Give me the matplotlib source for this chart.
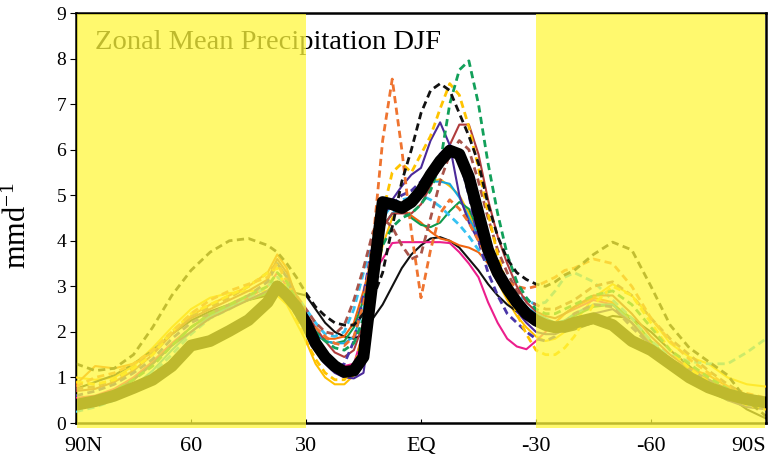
import matplotlib
matplotlib.use("Agg")
import matplotlib.pyplot as plt
from matplotlib.patches import Rectangle
from matplotlib.transforms import ScaledTranslation

plt.rcParams['font.family'] = ['Liberation Serif', 'DejaVu Serif']
plt.rcParams['mathtext.fontset'] = 'custom'
plt.rcParams['mathtext.rm'] = 'Liberation Serif'
plt.rcParams['mathtext.default'] = 'regular'

# latitude grid (N positive), 5 deg at high latitudes, 2.5 deg in the tropics
lat = [90, 85, 80, 75, 70, 65, 60, 55, 50, 45, 40,
       37.5, 35, 32.5, 30, 27.5, 25, 22.5, 20, 17.5, 15, 12.5, 10, 7.5, 5, 2.5, 0,
       -2.5, -5, -7.5, -10, -12.5, -15, -17.5, -20, -22.5, -25, -27.5, -30, -32.5, -35, -37.5,
       -40, -45, -50, -55, -60, -65, -70, -75, -80, -85, -90]

xticks = [90, 60, 30, 0, -30, -60, -90]
xlabels = ['90N', '60', '30', 'EQ', '-30', '-60', '90S']

# observations (thick black)
obs = [0.40, 0.48, 0.60, 0.77, 0.95, 1.25, 1.70, 1.80, 2.02, 2.26, 2.65,
       3.0, 2.8, 2.55, 2.2, 1.75, 1.45, 1.25, 1.12, 1.15, 1.45, 3.2, 4.85, 4.8, 4.72, 4.85, 5.1,
       5.45, 5.75, 5.98, 5.9, 5.4, 4.6, 3.8, 3.3, 2.95, 2.65, 2.4, 2.25, 2.15, 2.1, 2.12,
       2.2, 2.3, 2.15, 1.8, 1.6, 1.3, 1.0, 0.78, 0.63, 0.52, 0.45]

# models
black_dash = [1.3, 1.15, 1.2, 1.5, 2.1, 2.8, 3.35, 3.75, 4.0, 4.05, 3.9,
              3.75, 3.5, 3.2, 2.85, 2.55, 2.35, 2.2, 2.15, 2.15, 2.4, 2.75, 3.3, 4.3, 5.3, 6.0, 6.8,
              7.3, 7.45, 7.3, 6.8, 6.3, 5.7, 4.8, 4.1, 3.6, 3.3, 3.15, 3.05, 3.0, 3.1, 3.25,
              3.35, 3.7, 3.97, 3.8, 3.0, 2.15, 1.65, 1.35, 1.05, 0.5, 0.15]
green_dash = [0.35, 0.5, 0.7, 0.95, 1.25, 1.7, 2.1, 2.4, 2.6, 2.8, 3.0,
              3.3, 3.1, 2.7, 2.3, 2.0, 1.8, 1.65, 1.6, 1.75, 2.3, 3.2, 3.9, 4.3, 4.5, 4.6, 4.8,
              5.1, 5.7, 7.0, 7.75, 7.95, 7.0, 5.7, 4.6, 3.7, 3.1, 2.75, 2.5, 2.4, 2.4, 2.5,
              2.6, 2.8, 2.9, 2.6, 2.1, 1.6, 1.3, 1.0, 0.75, 0.6, 0.5]
orange_dash = [0.8, 1.0, 1.1, 1.3, 1.6, 2.0, 2.4, 2.7, 2.9, 3.05, 3.2,
               3.5, 3.1, 2.7, 2.3, 2.1, 1.9, 1.75, 1.7, 1.9, 2.6, 4.0, 6.2, 7.55, 6.0, 4.2, 2.75,
               3.8, 4.6, 4.9, 4.7, 4.4, 4.0, 3.6, 3.3, 3.1, 3.0, 2.95, 3.0, 3.1, 3.2, 3.35,
               3.4, 3.6, 3.5, 3.0, 2.3, 1.8, 1.4, 1.1, 0.8, 0.65, 0.55]
gold_dash = [0.9, 0.85, 0.95, 1.2, 1.5, 2.0, 2.4, 2.6, 2.8, 3.0, 3.3,
             3.4, 2.9, 2.3, 1.8, 1.4, 1.1, 0.95, 0.95, 1.2, 2.0, 3.3, 4.6, 5.5, 5.7, 5.5, 5.9,
             6.3, 6.9, 7.45, 7.2, 6.5, 5.6, 4.6, 3.7, 3.0, 2.4, 1.95, 1.6, 1.5, 1.5, 1.65,
             1.9, 2.6, 3.0, 2.8, 2.2, 1.6, 1.2, 0.9, 0.6, 0.4, 0.3]
purple = [0.5, 0.55, 0.7, 0.95, 1.3, 1.7, 2.0, 2.3, 2.5, 2.7, 2.9,
          3.1, 2.8, 2.4, 2.0, 1.6, 1.3, 1.1, 1.0, 0.98, 1.1, 2.6, 4.5, 4.9, 5.2, 5.45, 5.6,
          6.2, 6.6, 6.1, 5.0, 4.4, 4.0, 3.6, 3.2, 2.8, 2.45, 2.2, 2.0, 1.95, 1.95, 2.05,
          2.15, 2.4, 2.5, 2.2, 1.7, 1.3, 1.0, 0.75, 0.5, 0.35, 0.3]
purple_dash = [0.6, 0.7, 0.85, 1.1, 1.4, 1.85, 2.2, 2.4, 2.6, 2.8, 3.1,
               3.5, 3.2, 2.6, 2.1, 1.6, 1.3, 1.2, 1.3, 1.8, 2.8, 4.0, 4.6, 4.8, 5.0, 5.1, 5.3,
               5.6, 5.9, 6.1, 5.8, 5.0, 4.0, 3.3, 2.8, 2.4, 2.2, 2.0, 1.85, 1.8, 1.9, 2.2,
               2.4, 2.6, 2.55, 2.1, 1.7, 1.4, 1.15, 0.95, 0.7, 0.5, 0.4]
brown = [0.7, 0.75, 0.9, 1.15, 1.5, 1.95, 2.3, 2.5, 2.7, 2.9, 3.15,
         3.6, 3.3, 2.8, 2.4, 2.1, 1.8, 1.55, 1.45, 1.6, 2.2, 3.3, 4.3, 4.6, 4.6, 4.6, 4.8,
         5.2, 5.6, 6.1, 6.55, 6.55, 5.9, 4.9, 4.1, 3.5, 3.0, 2.65, 2.45, 2.35, 2.3, 2.4,
         2.55, 2.8, 2.8, 2.4, 1.9, 1.5, 1.2, 0.95, 0.75, 0.6, 0.5]
brown_dash = [0.75, 0.8, 0.95, 1.2, 1.55, 2.0, 2.35, 2.55, 2.75, 3.0, 3.3,
              3.5, 3.2, 2.8, 2.5, 2.2, 2.0, 1.95, 2.15, 2.7, 3.4, 4.2, 4.5, 4.3, 3.9, 3.6, 3.7,
              4.5, 5.3, 5.9, 6.2, 6.0, 5.3, 4.5, 3.8, 3.3, 2.9, 2.7, 2.6, 2.5, 2.5, 2.6,
              2.7, 3.0, 3.1, 2.8, 2.3, 1.85, 1.5, 1.15, 0.85, 0.6, 0.45]
cyan = [0.3, 0.4, 0.55, 0.8, 1.15, 1.6, 2.0, 2.35, 2.55, 2.7, 2.9,
        3.1, 3.0, 2.7, 2.4, 2.0, 1.8, 1.75, 1.75, 1.9, 2.5, 3.5, 4.3, 4.6, 4.8, 5.0, 5.25,
        5.3, 5.3, 5.25, 4.95, 4.5, 4.1, 3.7, 3.35, 3.0, 2.75, 2.55, 2.4, 2.3, 2.2, 2.25,
        2.4, 2.6, 2.6, 2.2, 1.7, 1.3, 1.0, 0.75, 0.55, 0.4, 0.35]
cyan_dash = [0.25, 0.35, 0.5, 0.75, 1.1, 1.5, 1.95, 2.3, 2.5, 2.75, 3.0,
             3.2, 3.05, 2.8, 2.5, 2.2, 1.95, 1.9, 2.0, 2.5, 3.3, 4.0, 4.5, 4.8, 4.9, 4.95, 5.0,
             4.9, 4.75, 4.55, 4.35, 4.1, 3.8, 3.5, 3.2, 2.95, 2.8, 2.7, 2.6, 2.65, 2.9, 3.2,
             3.3, 3.1, 2.7, 2.3, 1.8, 1.5, 1.35, 1.3, 1.3, 1.55, 1.85]
green = [0.45, 0.55, 0.7, 0.95, 1.3, 1.7, 2.1, 2.4, 2.55, 2.7, 2.85,
         3.0, 2.9, 2.6, 2.3, 1.95, 1.8, 1.75, 1.8, 2.1, 2.7, 3.6, 4.3, 4.6, 4.65, 4.5, 4.35,
         4.3, 4.4, 4.65, 4.85, 4.7, 4.2, 3.6, 3.15, 2.8, 2.55, 2.4, 2.3, 2.2, 2.15, 2.25,
         2.35, 2.55, 2.6, 2.3, 1.8, 1.4, 1.05, 0.7, 0.5, 0.45, 0.4]
orange = [0.85, 1.25, 1.2, 1.3, 1.55, 1.95, 2.35, 2.6, 2.8, 3.0, 3.3,
          3.7, 3.4, 2.7, 2.2, 1.95, 1.85, 1.85, 1.9, 2.2, 2.9, 3.7, 4.3, 4.6, 4.7, 4.55, 4.4,
          4.2, 4.05, 4.0, 3.9, 3.85, 3.75, 3.5, 3.1, 2.8, 2.55, 2.4, 2.3, 2.2, 2.2, 2.4,
          2.55, 2.75, 2.65, 2.2, 1.75, 1.4, 1.2, 1.05, 0.8, 0.55, 0.45]
magenta = [0.55, 0.6, 0.75, 1.0, 1.35, 1.75, 2.1, 2.35, 2.55, 2.75, 3.0,
           3.3, 3.0, 2.5, 2.1, 1.7, 1.45, 1.3, 1.25, 1.3, 2.0, 3.3, 3.6, 3.95, 3.97, 3.97, 3.97,
           3.97, 3.97, 3.95, 3.75, 3.5, 3.2, 2.65, 2.2, 1.85, 1.68, 1.62, 1.8, 2.0, 2.2, 2.4,
           2.5, 2.7, 2.6, 2.2, 1.7, 1.3, 1.0, 0.75, 0.55, 0.4, 0.35]
black_thin = [0.75, 0.9, 1.05, 1.3, 1.6, 1.95, 2.25, 2.45, 2.6, 2.7, 2.8,
              2.85, 2.85, 2.85, 2.8, 2.5, 2.2, 2.0, 1.9, 1.85, 1.95, 2.3, 2.6, 3.0, 3.4, 3.7, 3.9,
              4.05, 4.08, 4.0, 3.85, 3.6, 3.35, 3.05, 2.8, 2.6, 2.45, 2.33, 2.25, 2.15, 2.05, 2.0,
              2.05, 2.2, 2.35, 2.3, 2.0, 1.6, 1.25, 0.9, 0.6, 0.3, 0.1]
gold = [1.0, 0.95, 1.0, 1.25, 1.65, 2.1, 2.5, 2.75, 2.85, 2.9, 2.9,
        2.8, 2.6, 2.2, 1.8, 1.3, 1.0, 0.85, 0.85, 1.05, 1.7, 2.8, 3.9, 4.5, 4.8, 5.0, 5.2,
        5.3, 5.35, 5.2, 5.0, 4.6, 4.1, 3.6, 3.1, 2.7, 2.35, 2.1, 1.9, 1.8, 1.85, 2.0,
        2.2, 2.75, 3.05, 2.8, 2.3, 1.75, 1.45, 1.3, 1.0, 0.85, 0.8]

models = [
    (gold, '#ffc000', '-'),
    (black_thin, '#111111', '-'),
    (magenta, '#ec1e8c', '-'),
    (orange, '#f0640f', '-'),
    (green, '#109a4c', '-'),
    (cyan, '#12a8e0', '-'),
    (cyan_dash, '#36c2f2', '--'),
    (brown_dash, '#a8544a', '--'),
    (brown, '#b03c3c', '-'),
    (purple_dash, '#4a36a8', '--'),
    (purple, '#4b2a9a', '-'),
    (gold_dash, '#ffc400', '--'),
    (orange_dash, '#ef7430', '--'),
    (green_dash, '#12a05a', '--'),
    (black_dash, '#111111', '--'),
]

fig = plt.figure(figsize=(7.73, 4.58), dpi=100)
ax = fig.add_axes([0.0983, 0.0764, 0.8926, 0.8952])

for vals, col, ls in models:
    if ls == '--':
        ax.plot(lat, vals, color=col, lw=2.0, dashes=(2.6, 1.6), zorder=3)
    else:
        ax.plot(lat, vals, color=col, lw=1.5, zorder=3)
ax.plot(lat, obs, color='black', lw=8.5, solid_joinstyle='round',
        solid_capstyle='round', zorder=5)

ax.text(85, 8.22, 'Zonal Mean Precipitation DJF', fontsize=20.5, va='baseline',
        ha='left', zorder=2)

# yellow shading over the extratropics
for x0, x1 in [(89.7, 30), (-30, -89.7)]:
    ax.add_patch(Rectangle((x1, -0.12), x0 - x1, 9.09, facecolor='#fff83d',
                           edgecolor='none', alpha=0.75, zorder=10, clip_on=False))

ax.set_xlim(90, -90)
ax.set_ylim(0, 9)
ax.set_xticks(xticks)
ax.set_xticklabels(xlabels)
ax.set_yticks(range(10))
ax.tick_params(axis='x', direction='in', length=3, labelsize=16, pad=10)
ax.tick_params(axis='y', direction='out', length=4, labelsize=14, pad=3)
for sp in ax.spines.values():
    sp.set_linewidth(1.8)

# keep the end labels inside the figure
xtl = ax.get_xticklabels()
xtl[0].set_transform(xtl[0].get_transform() + ScaledTranslation(0.07, 0, fig.dpi_scale_trans))
xtl[-1].set_horizontalalignment('right')

ax.set_ylabel('mmd$^{-1}$', fontsize=22)
ax.yaxis.set_label_coords(-0.062, 0.48)

fig.savefig('out.png', dpi=100)
